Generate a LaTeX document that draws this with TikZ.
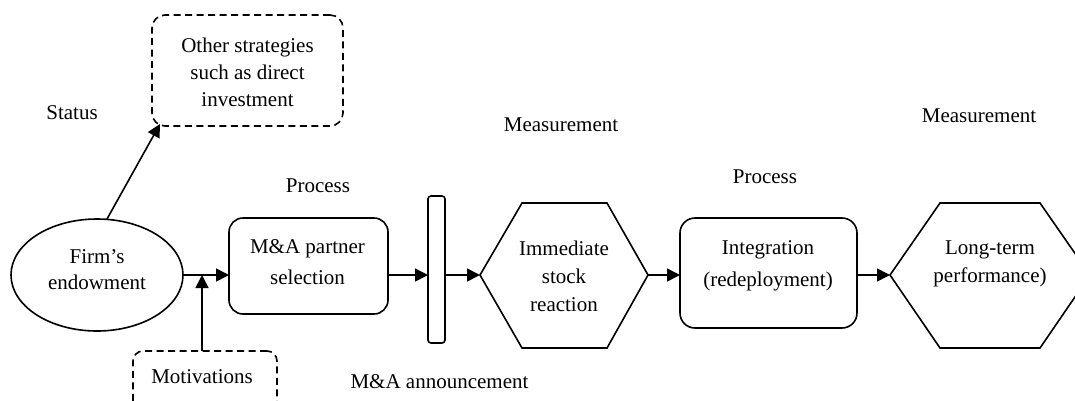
\documentclass[tikz,border=0pt]{standalone}
\usepackage{fontspec}
\setmainfont{Liberation Serif}
\usetikzlibrary{arrows.meta,calc,shapes.geometric}
\begin{document}
\begin{tikzpicture}[x=1pt,y=-1pt,
  every node/.style={font=\fontsize{21}{27}\selectfont, inner sep=0pt, outer sep=0pt},
  ln/.style={line width=1.6pt},
  arr/.style={ln, -{Triangle[length=13pt,width=13pt]}},
  dashbox/.style={draw, ln, dash pattern=on 7pt off 4.5pt, rounded corners=13pt},
  solidbox/.style={draw, ln, rounded corners=14pt},
  txt/.style={align=center},
  lbl/.style={anchor=base}]
\clip (0,0) rectangle (1075,400);
% shapes
\node[draw, ln, ellipse, minimum width=172pt, minimum height=112pt] (ell) at (97,275) {};
\node[solidbox, minimum width=159pt, minimum height=96pt] (sel) at (308.5,266) {};
\node[draw, ln, rounded corners=3pt, minimum width=17pt, minimum height=147pt] (bar) at (436.5,269.5) {};
\node[solidbox, rounded corners=15pt, minimum width=177pt, minimum height=110pt] (int) at (768.5,273) {};
\node[dashbox, minimum width=191pt, minimum height=111pt] (oth) at (247.5,70.5) {};
\node[dashbox, rounded corners=10pt, minimum width=144pt, minimum height=80pt] (mot) at (205,391) {};
% hexagons
\coordinate (h1w) at (480,275);
\coordinate (h1e) at (648,275);
\draw[ln] (h1w) -- (522,203) -- (607,203) -- (h1e) -- (607,348) -- (522,348) -- cycle;
\coordinate (h2w) at (890,275);
\coordinate (h2e) at (1090,275);
\draw[ln] (h2w) -- (940,203) -- (1040,203) -- (h2e) -- (1040,348) -- (940,348) -- cycle;
% texts
\node[txt, font=\fontsize{21}{26}\selectfont] (tfirm) at (97,270) {Firm’s\\endowment};
\node[txt, font=\fontsize{21}{30.5}\selectfont] (tsel) at (307.5,262) {M\&A partner\\selection};
\node[txt, font=\fontsize{21}{28}\selectfont] (timm) at (564,276) {Immediate\\stock\\reaction};
\node[txt, font=\fontsize{21}{32}\selectfont] (tint) at (768,266) {Integration\\(redeployment)};
\node[txt, font=\fontsize{21}{28}\selectfont] (tlong) at (990,264) {Long-term\\performance)};
\node[txt, font=\fontsize{21}{27}\selectfont] (toth) at (247.5,72) {Other strategies\\such as direct\\investment};
\node[lbl] (tmot) at (202,383) {Motivations};
\node[lbl] (lstatus) at (72,119) {Status};
\node[lbl] (lproc1) at (318,192) {Process};
\node[lbl] (lmeas1) at (561,131) {Measurement};
\node[lbl] (lproc2) at (765,183) {Process};
\node[lbl] (lmeas2) at (979,122) {Measurement};
\node[lbl] (lann) at (439.5,388) {M\&A announcement};
% connectors
\coordinate (mj) at (202,275);
\draw[arr] (ell.east) -- (ell.east -| sel.west);
\draw[arr] (mot.north -| mj) -- (mj);
\draw[arr] (sel.east |- ell.east) -- (bar.west |- ell.east);
\draw[arr] (bar.east |- h1w) -- (h1w);
\draw[arr] (h1e) -- (h1e -| int.west);
\draw[arr] (int.east |- h2w) -- (h2w);
\draw[arr] (ell.80) -- ($(oth.south west)+(8,-2)$);
\end{tikzpicture}
\end{document}
